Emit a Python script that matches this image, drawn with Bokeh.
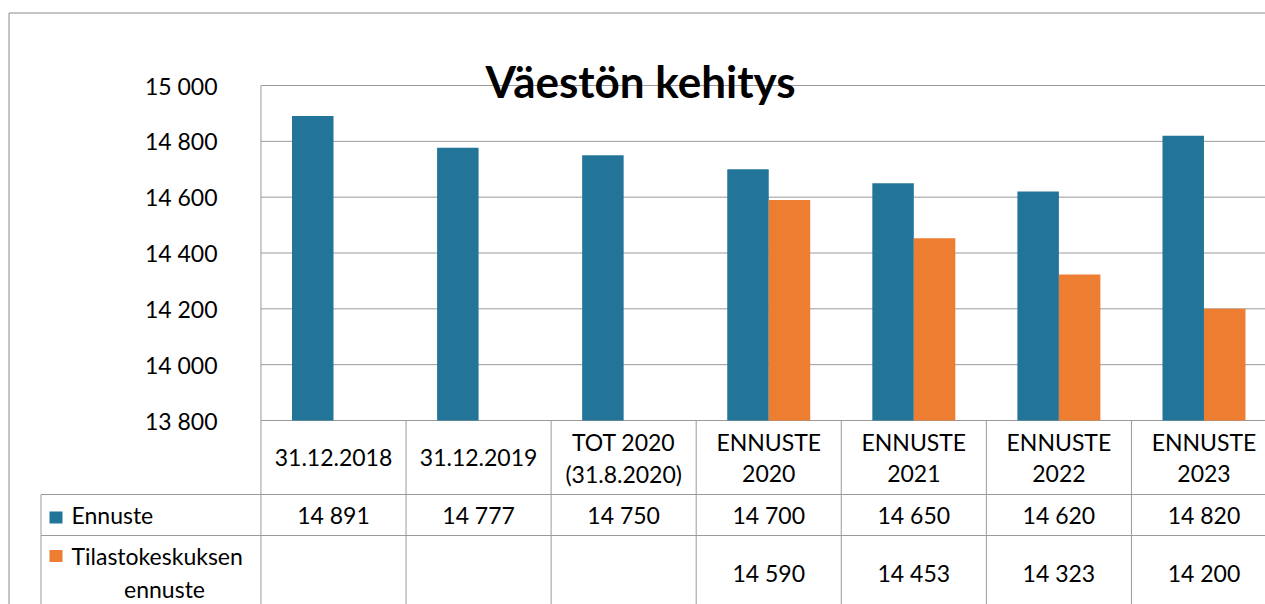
from bokeh.plotting import figure
from bokeh.models import Range1d, ColumnDataSource
from bokeh.core.properties import value
from bokeh.embed import file_html
from bokeh.resources import INLINE

# ---------------- data ----------------
title_text = "Väestön kehitys"
categories = ["31.12.2018", "31.12.2019", "TOT 2020\n(31.8.2020)", "ENNUSTE\n2020",
              "ENNUSTE\n2021", "ENNUSTE\n2022", "ENNUSTE\n2023"]
ennuste = [14891, 14777, 14750, 14700, 14650, 14620, 14820]
tilasto = [None, None, None, 14590, 14453, 14323, 14200]
series_names = ["Ennuste", "Tilastokeskuksen\nennuste"]
y_ticks = [13800, 14000, 14200, 14400, 14600, 14800, 15000]

# ---------------- style ----------------
BLUE = "#227499"
ORANGE = "#ED7D31"
GRID = "#9a9a9a"
FONT = value("Lato")
FS = "23px"

W, H = 1265, 604
# reference-pixel calibration (canvas spans page x 0..1265, y 0..604)
PX_L, PX_R, PX_T, PX_B = 0, W, 0, H
CX0, CW = 333.0, 145.08          # category 0 centre, category width (px)
Y_LO, Y_HI = y_ticks[0], y_ticks[-1]
PY_LO, PY_HI = 420.0, 85.0       # pixel rows of Y_LO and Y_HI
UPP = (Y_HI - Y_LO) / (PY_LO - PY_HI)

def xd(px):
    return (px - CX0) / CW

def yd(py):
    return Y_LO + (PY_LO - py) * UPP

p = figure(width=W, height=H, output_backend="svg", toolbar_location=None,
           x_range=Range1d(xd(PX_L), xd(PX_R)), y_range=Range1d(yd(PX_B), yd(PX_T)),
           x_axis_location=None, y_axis_location=None, min_border=0,
           tools="")
p.extra_x_ranges = {"px": Range1d(PX_L, PX_R)}
p.extra_y_ranges = {"px": Range1d(PX_B, PX_T)}
p.grid.visible = False
p.outline_line_color = None
p.background_fill_color = "white"
p.border_fill_color = "white"

n = len(categories)
x_end = xd(PX_R) + 1
y_bot = yd(PX_B) - 100

# outer chart-area border
p.segment(x0=[8.5, 8.5], y0=[12.5, 12.5], x1=[8.5, PX_R + 10], y1=[PX_B + 10, 12.5],
          line_color="#8a8a8a", line_width=1, x_range_name="px", y_range_name="px")

# horizontal gridlines (incl. plot top/bottom)
p.segment(x0=[-0.5] * len(y_ticks), y0=y_ticks, x1=[x_end] * len(y_ticks), y1=y_ticks,
          line_color=GRID, line_width=1)

# bars
bw = 0.286
p.vbar(x=[i - bw / 2 for i in range(n)], top=ennuste, bottom=Y_LO, width=bw,
       fill_color=BLUE, line_color=None)
ox = [i + bw / 2 for i in range(n) if tilasto[i] is not None]
ot = [v for v in tilasto if v is not None]
p.vbar(x=ox, top=ot, bottom=Y_LO, width=bw, fill_color=ORANGE, line_color=None)

# y tick labels
fmt = lambda v: f"{v:,}".replace(",", " ")
p.text(x=[xd(217)] * len(y_ticks), y=y_ticks, text=[fmt(t) for t in y_ticks],
       text_align="right", text_baseline="middle", text_font=FONT, text_font_size=FS,
       text_color="#000000")

# data table lines
vx = [-0.5 + k for k in range(n)]
p.segment(x0=vx, y0=[Y_HI] + [Y_LO] * (n - 1), x1=vx, y1=[y_bot] * n,
          line_color=GRID, line_width=1)
p.segment(x0=[40.5, 40.5], y0=[494, 535], x1=[PX_R + 10, PX_R + 10], y1=[494, 535],
          line_color=GRID, line_width=1, x_range_name="px", y_range_name="px")
p.segment(x0=[40.5], y0=[494], x1=[40.5], y1=[PX_B + 10],
          line_color=GRID, line_width=1, x_range_name="px", y_range_name="px")

# category labels
lx, ly, lt = [], [], []
for i, c in enumerate(categories):
    parts = c.split("\n")
    if len(parts) == 1:
        lx.append(i); ly.append(457); lt.append(parts[0])
    else:
        for j, s in enumerate(parts):
            lx.append(i); ly.append(441 + 32 * j); lt.append(s)
src = ColumnDataSource(dict(x=[CX0 + CW * v for v in lx], y=ly, t=lt))
p.text(x="x", y="y", text="t", source=src, text_align="center", text_baseline="middle",
       text_font=FONT, text_font_size=FS, text_color="#000000",
       x_range_name="px", y_range_name="px")

# table values
row_y = [514, 572]
for r, vals in enumerate([ennuste, tilasto]):
    xs = [CX0 + CW * i for i, v in enumerate(vals) if v is not None]
    ts = [fmt(v) for v in vals if v is not None]
    p.text(x=xs, y=[row_y[r]] * len(xs), text=ts, text_align="center", text_baseline="middle",
           text_font=FONT, text_font_size=FS, text_color="#000000",
           x_range_name="px", y_range_name="px")

# legend keys in table
p.rect(x=[55.5, 55.5], y=[517, 555.5], width=13, height=12, fill_color=[BLUE, ORANGE],
       line_color=None, x_range_name="px", y_range_name="px")
p.text(x=[71], y=[514], text=[series_names[0]], text_align="left", text_baseline="middle",
       text_font=FONT, text_font_size=FS, text_color="#000000",
       x_range_name="px", y_range_name="px")
l2 = series_names[1].split("\n")
p.text(x=[71], y=[555], text=[l2[0]], text_align="left", text_baseline="middle",
       text_font=FONT, text_font_size=FS, text_color="#000000",
       x_range_name="px", y_range_name="px")
p.text(x=[164], y=[588], text=[l2[1]], text_align="center", text_baseline="middle",
       text_font=FONT, text_font_size=FS, text_color="#000000",
       x_range_name="px", y_range_name="px")

# title
p.text(x=[640], y=[80], text=[title_text], text_align="center", text_baseline="alphabetic",
       text_font=FONT, text_font_size="44px", text_font_style="bold", text_color="#000000",
       x_range_name="px", y_range_name="px")

open("out.html", "w").write(file_html(p, INLINE))
